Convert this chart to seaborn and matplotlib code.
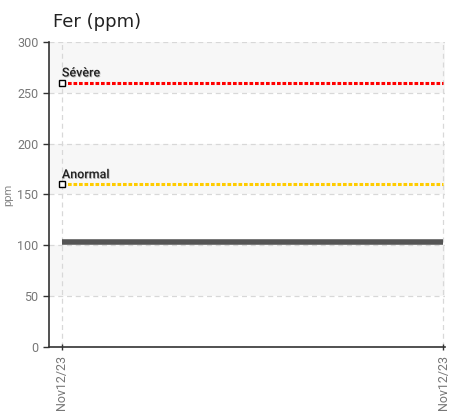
import matplotlib
matplotlib.use("Agg")
import matplotlib.pyplot as plt
import matplotlib.patheffects as pe
import seaborn as sns
import pandas as pd

dates = ["Nov12/23", "Nov12/23"]
values = [103, 103]
severe_limit = [260, 260]
abnormal_limit = [160, 160]
limit_labels = ["Sévère", "Anormal"]
y_ticks = [0, 50, 100, 150, 200, 250, 300]

sns.set_theme(style="white")
plt.rcParams['font.family'] = ['Roboto', 'DejaVu Sans']

fig = plt.figure(figsize=(4.49, 4.11), dpi=100)
ax = fig.add_axes([0.109, 0.156, 0.882, 0.742])

x = list(range(len(dates)))
df = pd.DataFrame({"x": x, "value": values, "sev": severe_limit, "abn": abnormal_limit})

# alternating bands
for i in range(len(y_ticks) - 1):
    if i % 2 == 1:
        ax.axhspan(y_ticks[i], y_ticks[i + 1], color="#f7f7f7", zorder=0, lw=0)

sns.lineplot(data=df, x="x", y="sev", ax=ax, color="#ff0000", lw=2.2,
             linestyle=(0, (1.2, 0.6)), zorder=3)
sns.lineplot(data=df, x="x", y="abn", ax=ax, color="#ffcc00", lw=2.2,
             linestyle=(0, (1.2, 0.6)), zorder=3)
sns.lineplot(data=df, x="x", y="value", ax=ax, color="#555555", lw=4, zorder=4,
             solid_capstyle="butt")

# markers and labels for limits
for lim, lab in zip([severe_limit[0], abnormal_limit[0]], limit_labels):
    ax.plot([x[0]], [lim], marker="s", ms=4.5, mfc="white", mec="black", mew=1, zorder=5)
    ax.text(x[0], lim + 3, lab, fontsize=9, color="#222222", ha="left", va="bottom",
            zorder=6, fontweight="medium",
            path_effects=[pe.withSimplePatchShadow(offset=(0.6, -0.6), shadow_rgbFace="#999999", alpha=0.6)])

ax.set_xlim(-0.034, 1.005)
ax.set_ylim(0, 300)
ax.set_yticks(y_ticks)
ax.set_xticks(x)
ax.set_xticklabels(dates, rotation=90, color="#777777", fontsize=9)
ax.tick_params(axis="y", colors="#777777", labelsize=9, length=4, width=1, direction="out", left=True)
ax.tick_params(axis="y", color="#333333")
ax.tick_params(axis="x", length=4, width=1, color="#333333", bottom=True, direction="inout")
ax.grid(True, axis="both", color="#d8d8d8", linestyle=(0, (4, 3)), lw=0.9)
ax.set_axisbelow(True)
for s in ["top", "right"]:
    ax.spines[s].set_visible(False)
for s in ["left", "bottom"]:
    ax.spines[s].set_color("#333333")
    ax.spines[s].set_linewidth(1.2)
ax.set_xlabel("")
ax.set_ylabel("ppm", color="#888888", fontsize=8)
ax.yaxis.set_label_coords(-0.09, 0.5)
fig.text(0.118, 0.935, "Fer (ppm)", fontsize=13, color="#222222", ha="left", va="baseline",
         family="DejaVu Sans")

fig.savefig("out.png", dpi=100)
